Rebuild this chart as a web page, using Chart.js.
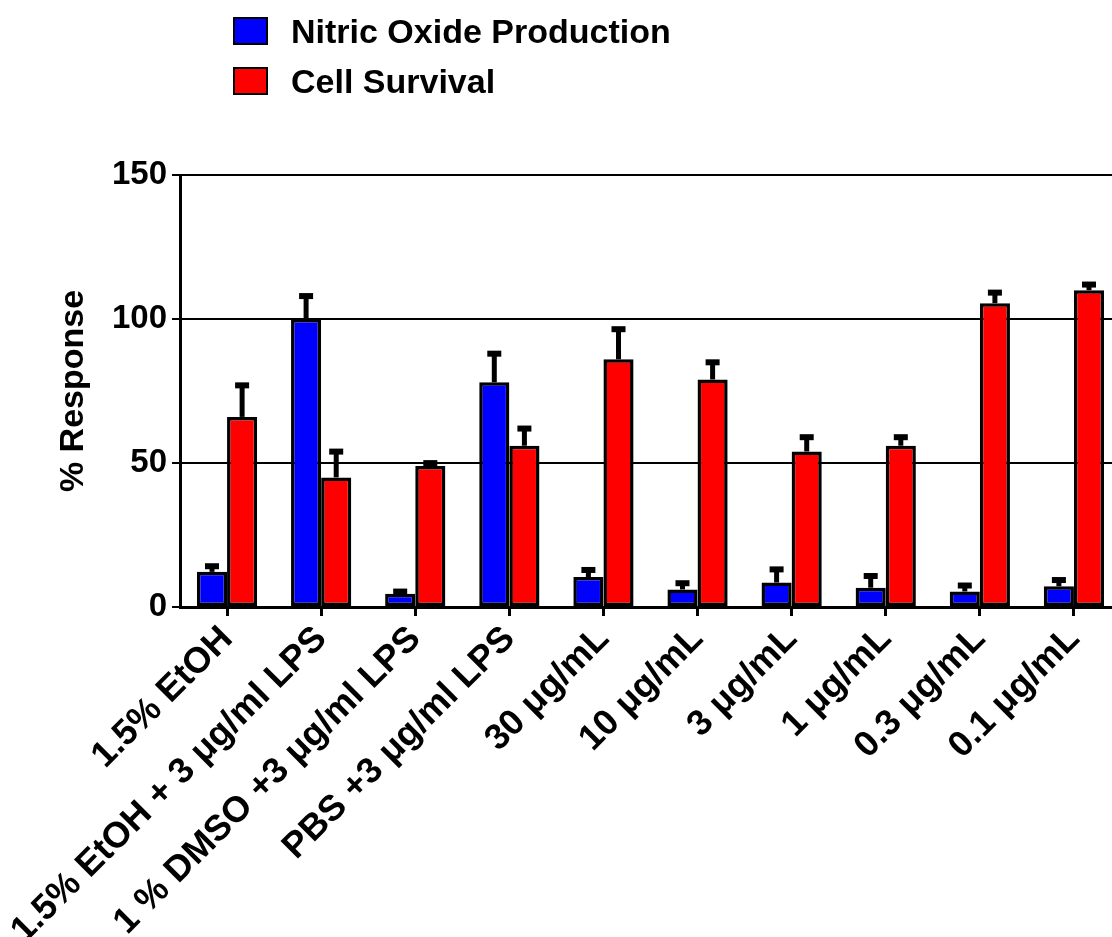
<!DOCTYPE html>
<html><head><meta charset="utf-8">
<script src="https://cdn.jsdelivr.net/npm/chart.js@4"></script>
<style>
html,body{margin:0;padding:0;background:#fff;overflow:hidden;width:1112px;height:937px;}
#wrap{position:absolute;left:0;top:0;width:1122px;height:937px;}
#legend{position:absolute;left:233px;top:6px;font-family:"Liberation Sans",Arial,sans-serif;font-weight:bold;font-size:34px;color:#000;}
.item{display:flex;align-items:center;height:50px;}
.sw{width:31px;height:24px;border:2.5px solid #000;margin-right:23px;}
</style></head><body>
<div id="wrap"><canvas id="c"></canvas></div>
<div id="legend"></div>
<script>
const categories = ['1.5% EtOH', '1.5% EtOH + 3 μg/ml LPS', '1 % DMSO +3 μg/ml LPS', 'PBS +3 μg/ml LPS',
  '30 μg/mL', '10 μg/mL', '3 μg/mL', '1 μg/mL', '0.3 μg/mL', '0.1 μg/mL'];
const seriesNames = ['Nitric Oxide Production', 'Cell Survival'];
const seriesColors = ['#0000ff', '#ff0000'];
const nitricOxide = [12.2, 100, 4.6, 78, 10.4, 6.1, 8.5, 6.7, 5.4, 7.2];
const nitricOxideErr = [3, 9, 1.8, 11, 3.5, 3.2, 5.6, 5.1, 3.1, 3.2];
const cellSurvival = [66, 45, 49, 56, 86, 79, 54, 56, 105.5, 110];
const cellSurvivalErr = [12, 10, 2, 7, 11.5, 7, 6, 4, 4.7, 3];
const yTicks = [0, 50, 100, 150];
const yTitle = '% Response';

const FONT = '"Liberation Sans", Arial, sans-serif';

// HTML legend
const lg = document.getElementById('legend');
seriesNames.forEach((n, i) => {
  const d = document.createElement('div'); d.className = 'item';
  const s = document.createElement('span'); s.className = 'sw'; s.style.background = seriesColors[i];
  const t = document.createElement('span'); t.textContent = n;
  d.appendChild(s); d.appendChild(t); lg.appendChild(d);
});

const errorBars = {
  id: 'errorBars',
  afterDatasetsDraw(chart) {
    const ctx = chart.ctx, ys = chart.scales.y;
    chart.data.datasets.forEach((ds, i) => {
      const meta = chart.getDatasetMeta(i);
      meta.data.forEach((bar, j) => {
        const v = ds.data[j], e = ds.errors[j];
        const y0 = ys.getPixelForValue(v);
        const y1 = ys.getPixelForValue(v + e);
        ctx.save();
        ctx.strokeStyle = '#000';
        ctx.lineWidth = 5;
        ctx.beginPath(); ctx.moveTo(bar.x, y0); ctx.lineTo(bar.x, y1 + 2); ctx.stroke();
        ctx.fillStyle = '#000';
        ctx.fillRect(bar.x - 7, y1, 14, 6);
        ctx.restore();
      });
    });
  }
};

new Chart(document.getElementById('c'), {
  type: 'bar',
  data: {
    labels: categories,
    datasets: [
      { label: seriesNames[0], data: nitricOxide, errors: nitricOxideErr, backgroundColor: seriesColors[0],
        borderColor: '#000', borderWidth: 3.5, borderSkipped: false },
      { label: seriesNames[1], data: cellSurvival, errors: cellSurvivalErr, backgroundColor: seriesColors[1],
        borderColor: '#000', borderWidth: 3.5, borderSkipped: false }
    ]
  },
  options: {
    responsive: true, maintainAspectRatio: false, animation: false, devicePixelRatio: 1,
    layout: { padding: { top: 175, right: 1, left: 0, bottom: 0 } },
    datasets: { bar: { categoryPercentage: 0.64, barPercentage: 1.0 } },
    plugins: { legend: { display: false }, tooltip: { enabled: false } },
    scales: {
      x: {
        grid: { drawOnChartArea: false, offset: false, drawTicks: true, tickLength: 9, color: '#000', lineWidth: 3 },
        border: { display: true, color: '#000', width: 3 },
        ticks: { autoSkip: false, minRotation: 45, maxRotation: 45, color: '#000', padding: 2,
          font: { family: FONT, weight: 'bold', size: 36 } },
        afterFit: s => { s.height = 330; }
      },
      y: {
        min: 0, max: 150,
        afterBuildTicks: s => { s.ticks = yTicks.map(v => ({ value: v })); },
        grid: { color: '#000', lineWidth: 2, tickLength: 8, drawTicks: true },
        border: { display: true, color: '#000', width: 3 },
        ticks: { color: '#000', padding: 5, font: { family: FONT, weight: 'bold', size: 33 } },
        title: { display: true, text: yTitle, color: '#000', padding: { top: 53, bottom: 0 },
          font: { family: FONT, weight: 'bold', size: 34 } },
        afterFit: s => { s.width = 180; }
      }
    }
  },
  plugins: [errorBars]
});
</script>
</body></html>
